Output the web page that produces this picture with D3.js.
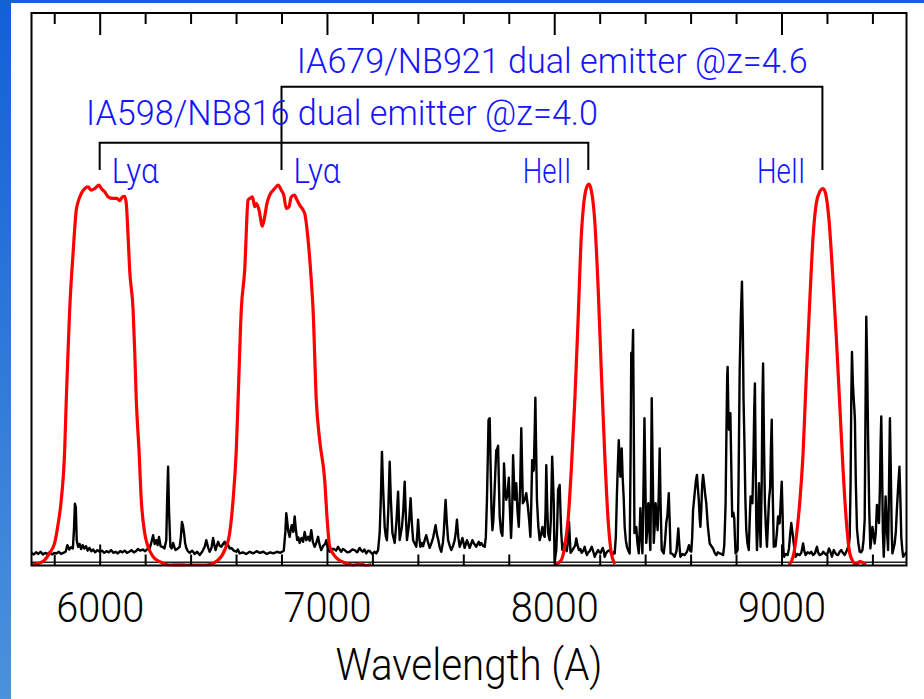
<!DOCTYPE html>
<html><head><meta charset="utf-8">
<script src="https://cdn.jsdelivr.net/npm/d3@7"></script>
<style>html,body{margin:0;padding:0;background:#fff;overflow:hidden}svg{display:block}</style>
</head><body>
<script>
// ---------------- data ----------------
const xDomain = [5700, 9550];           // wavelength (A)
const yDomain = [0, 100];               // arbitrary units
const majorTicks = [6000, 7000, 8000, 9000];
const minorTicks = [5800, 6200, 6400, 6600, 6800, 7200, 7400, 7600, 7800, 8200, 8400, 8600, 8800, 9200, 9400];
const tickLabels = ["6000", "7000", "8000", "9000"];
const xTitle = "Wavelength (A)";
const spectrumZero = 0.5;

// observed spectrum [wavelength, flux]
const spectrum = [[5700,2.2],[5710,1.9],[5720,2.3],[5730,2.0],[5740,2.4],[5750,1.9],[5760,2.2],[5770,2.0],[5780,2.3],[5790,1.9],[5800,2.2],[5810,2.1],[5820,2.4],[5830,2.0],[5840,2.2],[5850,2.4],[5858,3.6],[5866,2.8],[5874,3.2],[5882,3.0],[5887,6.5],[5891,11.1],[5895,10.5],[5899,4.5],[5905,3.3],[5912,3.8],[5918,2.9],[5925,3.6],[5932,3.0],[5940,3.4],[5947,2.6],[5955,3.1],[5963,2.5],[5972,2.8],[5980,2.3],[5990,2.7],[6000,2.4],[6010,2.6],[6020,2.2],[6030,2.5],[6040,2.3],[6050,2.7],[6060,2.2],[6070,2.4],[6080,2.1],[6090,2.5],[6100,2.3],[6110,2.6],[6120,2.2],[6130,2.4],[6140,2.7],[6150,2.3],[6160,2.5],[6168,2.9],[6178,2.6],[6190,2.8],[6200,2.5],[6210,2.9],[6220,3.0],[6228,4.2],[6235,5.4],[6242,3.8],[6249,4.5],[6255,3.6],[6261,5.1],[6268,3.4],[6276,3.3],[6285,3.0],[6293,4.5],[6297,12],[6301,17.8],[6305,10],[6311,3.3],[6317,3.0],[6323,4.0],[6329,3.2],[6334,2.7],[6344,3.0],[6352,3.3],[6357,5],[6362,7.8],[6366,7.2],[6371,5.8],[6376,4],[6381,3.1],[6388,2.5],[6396,2.2],[6407,2.6],[6418,2.0],[6429,2.4],[6440,1.8],[6451,2.4],[6462,3.3],[6469,4.5],[6477,3.2],[6484,2.4],[6492,3.1],[6499,4.9],[6505,3.5],[6510,2.7],[6516,3.6],[6521,4.2],[6528,3.5],[6535,3.3],[6543,3.8],[6550,4.2],[6557,3.4],[6565,3.6],[6572,3.0],[6579,3.1],[6590,2.6],[6601,2.4],[6608,2.8],[6616,2.1],[6630,2.3],[6645,2.0],[6660,2.4],[6675,2.1],[6690,2.5],[6705,2.2],[6720,2.4],[6735,2.0],[6750,2.3],[6765,2.1],[6780,2.4],[6795,2.2],[6810,2.6],[6817,6],[6821,9.4],[6825,8],[6829,6.3],[6836,5.1],[6841,6.5],[6845,7.2],[6852,6.0],[6858,8.8],[6863,6.5],[6869,4.5],[6874,5.0],[6880,4.0],[6888,4.9],[6895,4.2],[6902,6.0],[6909,4.5],[6917,5.1],[6924,4.4],[6931,6.3],[6938,4.2],[6946,3.3],[6953,4.0],[6961,5.1],[6968,3.6],[6975,2.7],[6980,3.2],[6986,3.6],[6992,3.8],[6997,4.5],[7004,3.2],[7012,2.4],[7021,2.9],[7030,2.9],[7040,2.6],[7049,3.3],[7056,2.8],[7063,2.4],[7070,2.9],[7078,2.7],[7089,2.3],[7100,2.4],[7111,2.8],[7122,2.7],[7133,2.3],[7144,3.1],[7150,2.7],[7157,2.4],[7165,2.8],[7173,2.1],[7181,2.6],[7188,2.5],[7195,2.2],[7201,2.0],[7209,2.4],[7217,2.1],[7225,2.7],[7232,5.8],[7237,12],[7242,20.5],[7247,14],[7254,6.9],[7259,5.2],[7264,4.5],[7270,10],[7276,18.7],[7281,12],[7288,5.8],[7298,4.0],[7306,8],[7313,13.3],[7317,8],[7320,4.5],[7330,6.9],[7336,10],[7342,15.1],[7347,9],[7352,4.5],[7360,7],[7368,12.1],[7373,8],[7379,4.5],[7393,3.3],[7398,6],[7401,8.2],[7406,5],[7411,3.3],[7417,4],[7423,3.4],[7430,4.5],[7437,5.4],[7444,4.2],[7452,3.1],[7460,4],[7467,4.9],[7472,6],[7478,7.2],[7484,5.5],[7490,4.5],[7496,3.2],[7503,2.4],[7510,4],[7514,5.8],[7518,9],[7522,11.8],[7527,8],[7533,4.5],[7540,3.5],[7547,2.7],[7555,3.5],[7562,4.5],[7567,6],[7572,8.2],[7578,5],[7584,3.3],[7590,4],[7596,4.9],[7601,4],[7606,3.1],[7611,3.8],[7616,4.5],[7622,3.8],[7628,3.1],[7634,3.8],[7640,4.5],[7648,3.8],[7657,3.3],[7662,3.8],[7668,4.2],[7673,3.6],[7679,4.0],[7686,3.5],[7694,3.3],[7699,5],[7704,11.8],[7708,20],[7711,26.3],[7716,26.6],[7720,18],[7724,10],[7728,6.3],[7732,8],[7736,11.8],[7741,17],[7745,20.8],[7749,21],[7753,21.6],[7757,14],[7760,8.8],[7766,6],[7772,5.3],[7776,10],[7779,18.4],[7784,14],[7789,11.8],[7795,13],[7800,15.8],[7805,10],[7810,4.9],[7815,10],[7819,19.9],[7823,15],[7827,11.8],[7833,14.8],[7838,10],[7844,6.9],[7850,14],[7855,24.8],[7859,17],[7862,11.2],[7870,11.8],[7877,13.0],[7884,10.6],[7890,8],[7895,5.1],[7899,11],[7903,19.0],[7907,17],[7910,17.2],[7914,24],[7917,30.3],[7920,22],[7924,11.8],[7930,7],[7936,4.5],[7942,5.5],[7948,6.9],[7953,5.5],[7958,5.1],[7962,10],[7965,18.1],[7969,11],[7973,5.8],[7980,4.5],[7985,8],[7991,19.6],[7995,15],[7998,11.2],[8000,5],[8002,0.5],[8005,1.5],[8009,2.7],[8013,7],[8017,13.6],[8024,14.5],[8028,9],[8031,5.8],[8036,2.7],[8041,3],[8046,4.0],[8050,3],[8055,2.5],[8060,4],[8065,7.8],[8069,4.5],[8072,2.2],[8079,2.6],[8086,3.1],[8092,3.5],[8097,4.8],[8103,3.5],[8109,2.7],[8115,2.9],[8121,2.2],[8128,2.6],[8134,3.3],[8139,2.4],[8144,1.8],[8150,2.3],[8156,2.5],[8165,3.3],[8172,2.4],[8178,1.5],[8186,2.2],[8193,2.7],[8199,2.3],[8204,2.2],[8213,3.1],[8218,2.5],[8222,1.5],[8229,2.2],[8235,2.5],[8244,2.7],[8250,2.1],[8255,1.8],[8261,2.3],[8266,2.1],[8271,5],[8276,13.0],[8280,18],[8284,22.6],[8288,19],[8291,16.0],[8294,18],[8297,21.1],[8301,16],[8306,11.8],[8310,6.9],[8315,4.5],[8320,3.3],[8326,2.6],[8332,2.1],[8336,20],[8339,38.4],[8343,36],[8347,42.6],[8350,25],[8353,5.8],[8357,6.5],[8361,6.9],[8366,4],[8372,2.1],[8376,6],[8379,10.3],[8383,6],[8388,2.1],[8392,12],[8397,26.6],[8401,15],[8405,4.0],[8410,7],[8414,11.2],[8418,7],[8423,2.7],[8426,15],[8429,30.2],[8433,18],[8438,4.0],[8442,7],[8446,11.2],[8450,9],[8455,6.3],[8460,13],[8464,21.1],[8468,11],[8473,2.7],[8482,2.1],[8488,4.5],[8493,7.6],[8498,9],[8504,13.0],[8508,8],[8512,2.1],[8520,2.0],[8530,1.5],[8538,2.5],[8542,4.5],[8546,6.6],[8550,4],[8555,1.5],[8564,2.0],[8574,1.8],[8584,2.4],[8593,3.6],[8598,2.6],[8603,2.4],[8607,5],[8611,10.0],[8618,13],[8624,15.5],[8628,16.3],[8632,14],[8636,11.8],[8640,8.5],[8643,6.9],[8647,10],[8651,14.5],[8655,16.3],[8660,14.5],[8665,12.5],[8669,11.2],[8676,7],[8684,3.9],[8692,3.4],[8699,3.0],[8706,2.2],[8713,1.8],[8720,2.3],[8728,2.1],[8735,2.0],[8743,1.8],[8748,3.5],[8751,7],[8754,11.2],[8758,25],[8761,34],[8763,35.9],[8766,28],[8769,24.5],[8772,26],[8775,27.5],[8779,18],[8783,8.8],[8788,9.5],[8792,8.5],[8795,5],[8798,2.1],[8803,2.4],[8807,2.7],[8811,15],[8816,35.3],[8821,45],[8826,51.3],[8830,42],[8833,30],[8837,22.0],[8841,12],[8845,6.3],[8850,4],[8856,2.7],[8860,8],[8864,12.4],[8868,11.5],[8872,11.2],[8877,20],[8880,28],[8883,32.9],[8886,20],[8889,8],[8892,2.7],[8897,8],[8901,14.8],[8904,9],[8908,3.3],[8913,15],[8916,30],[8919,36.5],[8923,22],[8927,11.2],[8931,7],[8936,3.3],[8940,7],[8945,11.8],[8950,14],[8954,22],[8957,26.3],[8961,14],[8966,3.3],[8970,3.6],[8974,3.4],[8980,6],[8985,8.8],[8989,7.5],[8992,7.6],[8996,11],[9001,15.1],[9005,9],[9008,3],[9011,1.5],[9019,2.0],[9027,1.8],[9033,3],[9038,5.5],[9043,7.6],[9048,6],[9054,3.9],[9058,2.5],[9062,1.5],[9070,2.0],[9080,1.8],[9087,2.2],[9091,3],[9095,3.9],[9100,2.6],[9106,1.8],[9115,2.3],[9124,2.1],[9131,2.4],[9139,1.8],[9148,2.2],[9152,2.8],[9156,3.3],[9161,2.3],[9168,1.8],[9178,2.0],[9184,2.4],[9190,2.1],[9198,1.8],[9204,2.3],[9209,3.0],[9214,2.5],[9222,1.5],[9226,2.2],[9230,2.7],[9236,2.2],[9242,1.9],[9249,1.8],[9256,2.4],[9263,2.7],[9270,2.2],[9278,1.8],[9285,2.4],[9290,2.9],[9293,3.3],[9297,3.8],[9300,5.1],[9304,15],[9307,30],[9310,38.6],[9314,33],[9318,29.9],[9321,28],[9323,26.3],[9327,15],[9332,6.6],[9338,4],[9344,2.4],[9350,2.3],[9356,2.7],[9361,4.5],[9366,8.2],[9370,30],[9373,45.0],[9377,36],[9381,23.2],[9386,10],[9391,3.0],[9395,4.5],[9400,6.9],[9405,5.5],[9410,3.9],[9415,6],[9420,10.9],[9424,9],[9429,7.6],[9433,14],[9436,22],[9439,26.9],[9443,16],[9446,6],[9450,1.5],[9454,6],[9458,12.4],[9463,7],[9469,2.7],[9473,14],[9477,26.6],[9481,17],[9485,6],[9488,2.1],[9493,3],[9498,3.9],[9503,6],[9508,10.3],[9513,14],[9519,17.8],[9523,12],[9527,5.1],[9531,3],[9535,1.5],[9540,1.8],[9546,2.1],[9550,2.4]];

// filter transmission curves [wavelength, transmission]
const filterIA598 = [[5700,0],[5749,0.6],[5780,2.2],[5802,4.0],[5815,6.9],[5831,11.8],[5846,20.8],[5853,29.9],[5861,38.9],[5868,46.2],[5883,56.5],[5897,64.3],[5905,65.8],[5919,67.3],[5934,68.2],[5949,68.5],[5963,67.9],[5978,68.2],[5997,68.8],[6007,68.2],[6022,67.6],[6037,66.7],[6059,66.4],[6076,66.4],[6088,66.0],[6100,66.7],[6110,66.8],[6117,65.5],[6125,59.5],[6132,53.4],[6147,46.2],[6154,38.9],[6161,29.9],[6173,20.8],[6183,11.8],[6198,5.8],[6213,3.3],[6235,1.5],[6264,0.6],[6308,0],[6374,0]];
const filterIA679 = [[6321,0],[6469,0],[6521,0.9],[6550,2.7],[6572,5.8],[6587,11.8],[6601,20.8],[6609,29.9],[6623,46.2],[6638,53.4],[6653,66.1],[6660,66.4],[6672,66.7],[6682,64.9],[6689,65.5],[6701,64.3],[6716,61.4],[6726,63.1],[6736,65.5],[6748,67.0],[6770,68.2],[6785,68.8],[6799,67.9],[6810,67.0],[6821,64.6],[6833,64.9],[6843,66.7],[6858,67.0],[6865,66.4],[6880,65.2],[6895,64.3],[6902,63.7],[6917,58.9],[6931,51.6],[6939,46.2],[6953,29.9],[6968,22.6],[6990,15.4],[7001,8.2],[7012,3.3],[7041,1.3],[7078,0.4],[7113,0],[7150,0.2],[7170,-0.1],[7195,0.1]];
const filterNB816 = [[8002,0],[8031,0.9],[8046,3.3],[8061,8.2],[8075,17.2],[8090,29.3],[8105,44.4],[8119,59.5],[8130,65.5],[8141,68.2],[8153,69.0],[8163,67.9],[8178,62.5],[8193,50.4],[8207,35.3],[8222,20.3],[8237,8.2],[8251,2.2],[8262,0.6],[8268,0.2]];
const filterNB921 = [[9033,0],[9051,1.5],[9065,5.1],[9080,11.2],[9095,20.3],[9109,34.1],[9124,47.5],[9139,59.5],[9153,65.5],[9168,67.6],[9183,68.2],[9194,67.3],[9209,62.5],[9224,53.4],[9241,41.4],[9256,29.3],[9271,17.2],[9286,7.6],[9300,2.2],[9315,0.6],[9329,0],[9344,0.6],[9359,0.4],[9371,0]];

// annotation brackets
const bracketLabels = ["IA598/NB816 dual emitter @z=4.0", "IA679/NB921 dual emitter @z=4.6"];
const bracketLyaWave = [6000, 6800];
const bracketHeIIWave = [8150, 9180];
const lineNames = ["Lyα", "HeII"];

// ---------------- layout ----------------
const W = 924, H = 699;
const plot = {left: 31.5, right: 906.5, top: 13, bottom: 565.5};
const svg = d3.select("body").append("svg").attr("width", W).attr("height", H);

const defs = svg.append("defs");
const grad = defs.append("linearGradient").attr("id", "sideGrad").attr("x1", 0).attr("y1", 0).attr("x2", 0).attr("y2", 1);
grad.append("stop").attr("offset", "0%").attr("stop-color", "#1260d6");
grad.append("stop").attr("offset", "100%").attr("stop-color", "#4a92dc");
defs.append("clipPath").attr("id", "clip").append("rect")
  .attr("x", plot.left).attr("y", plot.top).attr("width", plot.right - plot.left).attr("height", plot.bottom - plot.top + 1);

svg.append("rect").attr("width", W).attr("height", H).attr("fill", "#ffffff");
svg.append("rect").attr("x", 0).attr("y", 0).attr("width", W).attr("height", 3).attr("fill", "#1362d8");
svg.append("rect").attr("x", 0).attr("y", 0).attr("width", 11).attr("height", H).attr("fill", "url(#sideGrad)");

const x = d3.scaleLinear().domain(xDomain).range([plot.left, plot.right]);
const y = d3.scaleLinear().domain(yDomain).range([565, plot.top]);

// zero line
svg.append("line").attr("x1", plot.left).attr("x2", plot.right)
  .attr("y1", y(spectrumZero)).attr("y2", y(spectrumZero))
  .attr("stroke", "#222").attr("stroke-width", 1.3);

const g = svg.append("g").attr("clip-path", "url(#clip)");
const lineGen = d3.line().x(d => x(d[0])).y(d => y(d[1]));
g.append("path").datum(spectrum).attr("d", lineGen)
  .attr("fill", "none").attr("stroke", "#000").attr("stroke-width", 2.4).attr("stroke-linejoin", "round");

const smooth = d3.line().x(d => x(d[0])).y(d => y(d[1])).curve(d3.curveMonotoneX);
[filterIA598, filterIA679, filterNB816, filterNB921].forEach(f => {
  g.append("path").datum(f).attr("d", smooth)
    .attr("fill", "none").attr("stroke", "#ff0000").attr("stroke-width", 3.2).attr("stroke-linejoin", "round");
});

// axes
const fontMain = "Roboto, 'Liberation Sans', sans-serif";
function styleAxis(sel) {
  sel.select(".domain").remove();
  sel.selectAll(".tick line").attr("stroke", "#000").attr("stroke-width", 2);
}
svg.append("g").attr("transform", `translate(0,${plot.bottom})`)
  .call(d3.axisBottom(x).tickValues(minorTicks).tickSizeInner(-11).tickSizeOuter(0).tickFormat(""))
  .call(styleAxis);
const bottomMajor = svg.append("g").attr("transform", `translate(0,${plot.bottom})`)
  .call(d3.axisBottom(x).tickValues(majorTicks).tickSizeInner(-21).tickSizeOuter(0).tickPadding(27)
    .tickFormat((d, i) => tickLabels[i]))
  .call(styleAxis);
bottomMajor.selectAll(".tick text")
  .attr("font-family", fontMain).attr("font-weight", 300).attr("font-size", 42).attr("fill", "#000")
  .attr("textLength", 88).attr("lengthAdjust", "spacingAndGlyphs");
svg.append("g").attr("transform", `translate(0,${plot.top})`)
  .call(d3.axisTop(x).tickValues(minorTicks).tickSizeInner(-11).tickSizeOuter(0).tickFormat(""))
  .call(styleAxis);
svg.append("g").attr("transform", `translate(0,${plot.top})`)
  .call(d3.axisTop(x).tickValues(majorTicks).tickSizeInner(-22).tickSizeOuter(0).tickFormat(""))
  .call(styleAxis);

// frame
svg.append("rect").attr("x", plot.left).attr("y", plot.top)
  .attr("width", plot.right - plot.left).attr("height", plot.bottom - plot.top)
  .attr("fill", "none").attr("stroke", "#000").attr("stroke-width", 2);

// x title
svg.append("text").attr("x", (plot.left + plot.right) / 2).attr("y", 680)
  .attr("text-anchor", "middle").attr("font-family", fontMain).attr("font-weight", 300)
  .attr("font-size", 45).attr("fill", "#000")
  .attr("textLength", 267).attr("lengthAdjust", "spacingAndGlyphs").text(xTitle);

// brackets
const legBottom = 170;
const bracketTop = [142.7, 86.7];
const blue = "#1414ff";
for (let i = 0; i < 2; i++) {
  const xl = x(bracketLyaWave[i]), xr = x(bracketHeIIWave[i]);
  svg.append("path")
    .attr("d", `M${xl},${legBottom}V${bracketTop[i]}H${xr}V${legBottom}`)
    .attr("fill", "none").attr("stroke", "#000").attr("stroke-width", 2);
}
function blueText(tx, ty, len, str) {
  return svg.append("text").attr("x", tx).attr("y", ty).attr("font-family", fontMain)
    .attr("font-weight", 300).attr("font-size", 35).attr("fill", blue)
    .attr("textLength", len).attr("lengthAdjust", "spacingAndGlyphs").text(str);
}
blueText(86, 125, 512, bracketLabels[0]);
blueText(296.7, 73, 511, bracketLabels[1]);
for (let i = 0; i < 2; i++) {
  blueText(x(bracketLyaWave[i]) + 12, 183, 47, lineNames[0]);
  blueText(x(bracketHeIIWave[i]) - 65.5, 183, 48.5, lineNames[1]);
}
</script>
</body></html>
